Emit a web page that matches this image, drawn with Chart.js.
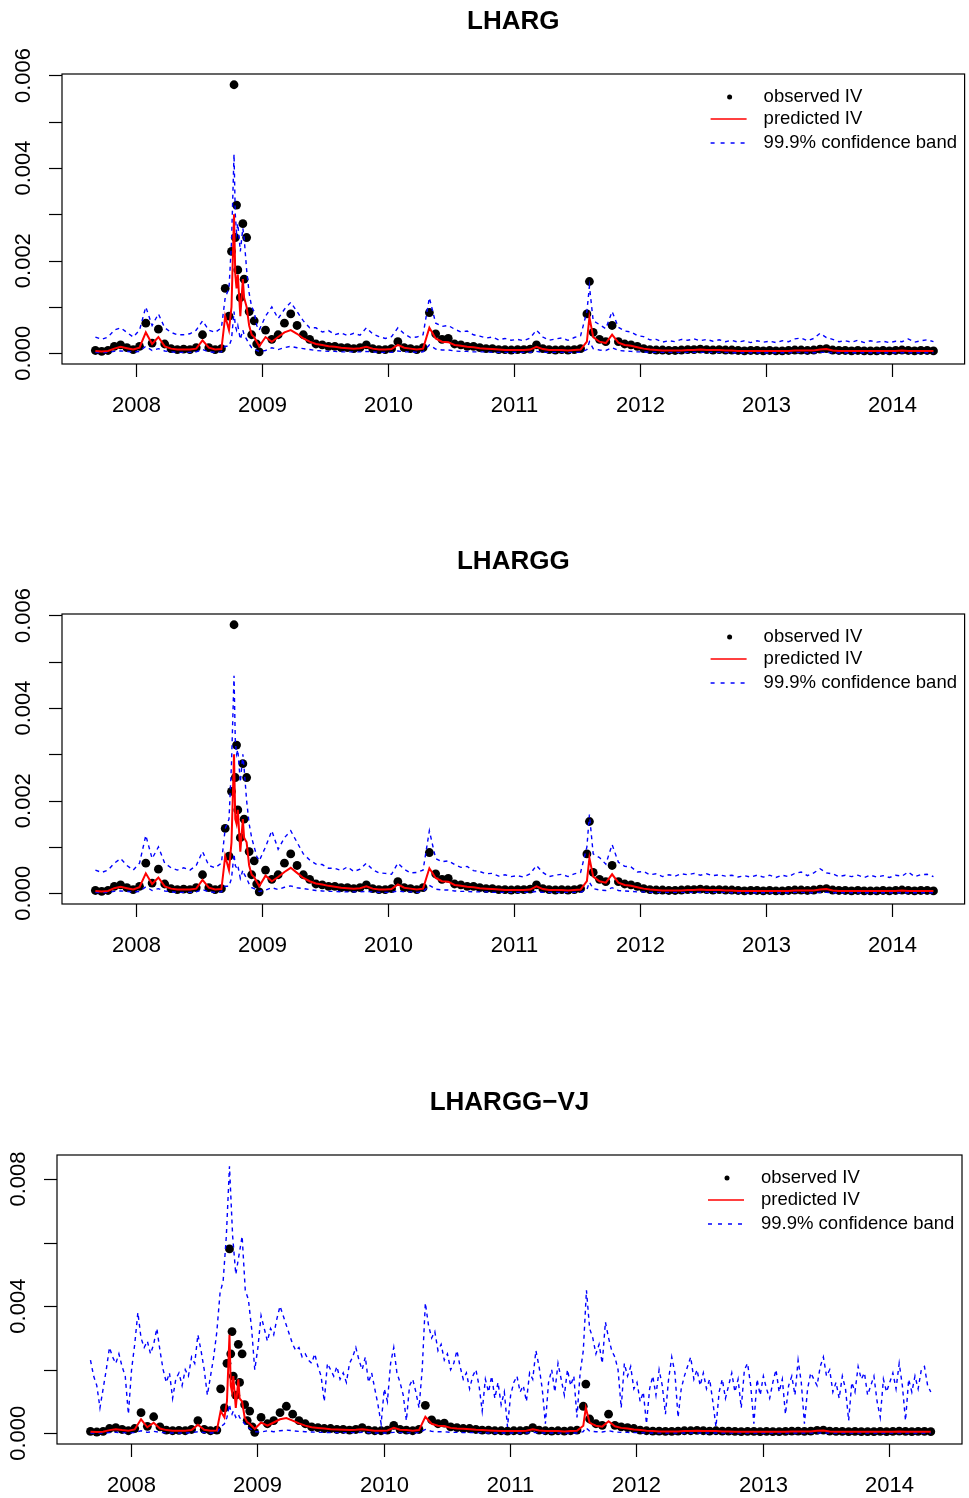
<!DOCTYPE html>
<html>
<head>
<meta charset="utf-8">
<script src="https://cdn.jsdelivr.net/npm/chart.js@4.4.1/dist/chart.umd.min.js"></script>
<style>
  body { margin: 0; background: #fff; }
  #wrap { position: relative; width: 969px; height: 1498px; }
  canvas { position: absolute; left: 0; }
</style>
</head>
<body>
<div id="wrap">
  <canvas id="lharg" width="969" height="540" style="top:0px"></canvas>
  <canvas id="lhargg" width="969" height="540" style="top:540px"></canvas>
  <canvas id="lharggvj" width="969" height="418" style="top:1080px"></canvas>
</div>
<script>
// decimal years of the sampled trading days
const dates = [
  2007.68, 2007.73, 2007.78, 2007.83, 2007.88, 2007.93, 2007.98, 2008.03, 2008.08, 2008.13, 2008.18, 2008.23, 2008.28, 2008.33, 2008.38, 2008.43, 2008.48, 2008.53, 2008.58, 2008.63, 2008.68,
  2008.71, 2008.74, 2008.76, 2008.78, 2008.79, 2008.80, 2008.81, 2008.83, 2008.85, 2008.86, 2008.88, 2008.90, 2008.92, 2008.94, 2008.96, 2008.98,
  2009.03, 2009.08, 2009.13, 2009.18, 2009.23, 2009.28, 2009.33, 2009.38, 2009.43, 2009.48, 2009.53, 2009.58, 2009.63, 2009.68, 2009.73, 2009.78, 2009.83, 2009.88, 2009.93, 2009.98,
  2010.03, 2010.08, 2010.13, 2010.18, 2010.23, 2010.28, 2010.33, 2010.38, 2010.43, 2010.48, 2010.53, 2010.58, 2010.63, 2010.68, 2010.73, 2010.78, 2010.83, 2010.88, 2010.93, 2010.98,
  2011.03, 2011.08, 2011.13, 2011.18, 2011.23, 2011.28, 2011.33, 2011.38, 2011.43, 2011.48, 2011.53, 2011.58, 2011.60, 2011.63, 2011.68, 2011.73, 2011.78, 2011.83, 2011.88, 2011.93, 2011.98,
  2012.03, 2012.08, 2012.13, 2012.18, 2012.23, 2012.28, 2012.33, 2012.38, 2012.43, 2012.48, 2012.53, 2012.58, 2012.63, 2012.68, 2012.73, 2012.78, 2012.83, 2012.88, 2012.93, 2012.98,
  2013.03, 2013.08, 2013.13, 2013.18, 2013.23, 2013.28, 2013.33, 2013.38, 2013.43, 2013.48, 2013.53, 2013.58, 2013.63, 2013.68, 2013.73, 2013.78, 2013.83, 2013.88, 2013.93, 2013.98,
  2014.03, 2014.08, 2014.13, 2014.18, 2014.23, 2014.28, 2014.33
];

// all series below are in units of 1e-4
const observed = [
  0.6, 0.4, 0.6, 1.5, 1.8, 1.2, 0.8, 1.5, 6.5, 2.2, 5.2, 2.0, 1.0, 0.8, 0.9, 0.8, 1.2, 4.0, 1.2, 0.8, 1.0,
  14, 8, 22, 58, 25, 32, 18, 12, 28, 16, 25, 9, 4, 7, 2, 0.3,
  5.0, 3.0, 4.0, 6.5, 8.5, 6.0, 4.0, 3.0, 2.0, 1.8, 1.5, 1.5, 1.2, 1.2, 1.0, 1.2, 1.8, 1.0, 0.8, 0.8,
  1.0, 2.5, 1.2, 1.0, 0.8, 1.2, 8.8, 4.2, 3.0, 3.2, 2.0, 1.8, 1.5, 1.5, 1.2, 1.0, 1.0, 0.8, 0.8, 0.7,
  0.8, 0.8, 0.9, 1.8, 1.0, 0.8, 0.7, 0.8, 0.7, 0.8, 1.0, 8.5, 15.5, 4.5, 3.0, 2.5, 6.0, 2.5, 2.0, 1.8, 1.5,
  1.0, 0.8, 0.7, 0.7, 0.6, 0.6, 0.7, 0.8, 0.8, 0.9, 0.8, 0.7, 0.8, 0.7, 0.7, 0.6, 0.5, 0.6, 0.6, 0.5,
  0.6, 0.5, 0.5, 0.6, 0.7, 0.7, 0.6, 0.7, 0.9, 1.0, 0.7, 0.6, 0.6, 0.5, 0.6, 0.5, 0.5, 0.5, 0.6, 0.5,
  0.6, 0.7, 0.6, 0.5, 0.6, 0.6, 0.5
];

const predLHARG = [
  0.5, 0.4, 0.5, 1.0, 1.4, 1.1, 0.8, 1.2, 4.5, 2.0, 3.5, 1.5, 1.0, 0.8, 0.8, 0.8, 1.0, 2.8, 1.2, 0.8, 0.9,
  8, 5, 10, 30, 17, 14, 17, 8, 16, 12, 10, 6, 4, 3.5, 2.5, 1.5,
  3.5, 2.5, 3.5, 4.5, 5.0, 4.2, 3.2, 2.5, 2.0, 1.8, 1.5, 1.4, 1.2, 1.1, 1.0, 1.1, 1.4, 1.0, 0.8, 0.8,
  0.9, 1.8, 1.2, 1.0, 0.8, 1.0, 5.5, 3.2, 2.5, 2.4, 1.8, 1.6, 1.4, 1.3, 1.1, 1.0, 0.9, 0.8, 0.7, 0.7,
  0.7, 0.7, 0.8, 1.4, 0.9, 0.7, 0.7, 0.7, 0.6, 0.7, 0.8, 2.5, 7.8, 3.5, 2.5, 2.2, 4.0, 2.3, 1.8, 1.6, 1.3,
  1.0, 0.8, 0.7, 0.6, 0.6, 0.6, 0.6, 0.7, 0.7, 0.8, 0.7, 0.7, 0.7, 0.6, 0.6, 0.5, 0.5, 0.5, 0.5, 0.5,
  0.5, 0.5, 0.5, 0.5, 0.6, 0.6, 0.6, 0.6, 0.8, 0.9, 0.6, 0.5, 0.5, 0.5, 0.5, 0.5, 0.5, 0.5, 0.5, 0.5,
  0.5, 0.6, 0.5, 0.5, 0.5, 0.5, 0.5
];
const upperLHARG = [
  3.5, 3.0, 3.5, 5.0, 5.5, 4.5, 3.5, 5.0, 10.0, 6.0, 8.5, 5.5, 4.5, 4.0, 4.0, 4.2, 5.0, 7.0, 5.0, 4.5, 5.5,
  12, 14, 24, 43, 30, 26, 28, 22, 27, 25, 18, 13, 10, 9, 6, 5,
  8.0, 10.0, 7.5, 9.5, 11.0, 9.0, 7.0, 5.5, 5.5, 4.6, 4.9, 4.0, 4.4, 3.8, 4.3, 3.9, 5.5, 4.2, 3.6, 3.2,
  3.6, 5.5, 4.2, 3.4, 3.5, 4.0, 12.0, 6.5, 5.8, 6.0, 5.2, 4.6, 4.8, 4.0, 3.7, 3.3, 3.5, 2.9, 3.2, 2.8,
  3.0, 2.7, 3.3, 5.0, 3.5, 2.8, 3.1, 3.3, 2.8, 3.4, 3.8, 9.0, 14.5, 7.0, 6.2, 5.3, 9.0, 5.6, 4.8, 4.6, 3.8,
  3.6, 2.9, 3.0, 2.4, 2.7, 2.5, 3.0, 2.8, 3.1, 2.7, 3.0, 2.6, 2.9, 2.5, 2.8, 2.4, 2.7, 2.3, 2.7, 2.4,
  2.6, 2.3, 2.7, 2.5, 3.1, 3.3, 2.7, 3.2, 4.3, 3.4, 3.0, 2.5, 2.7, 2.4, 2.8, 2.3, 2.7, 2.4, 2.6, 2.3,
  2.6, 2.5, 3.1, 2.4, 2.7, 2.9, 2.5
];
const lowerLHARG = [
  0.2, 0.1, 0.2, 0.4, 0.5, 0.4, 0.3, 0.4, 1.5, 0.6, 1.0, 0.5, 0.3, 0.2, 0.2, 0.2, 0.3, 0.8, 0.3, 0.2, 0.3,
  1.5, 1.5, 3.0, 9.0, 6.0, 5.0, 6.0, 3.0, 5.0, 4.0, 3.0, 2.0, 1.2, 1.0, 0.6, 0.4,
  0.6, 1.2, 0.8, 1.2, 1.5, 1.2, 1.0, 0.8, 0.6, 0.5, 0.4, 0.4, 0.3, 0.3, 0.3, 0.3, 0.4, 0.3, 0.2, 0.2,
  0.2, 0.5, 0.3, 0.3, 0.2, 0.3, 1.8, 0.9, 0.7, 0.7, 0.5, 0.4, 0.4, 0.3, 0.3, 0.3, 0.2, 0.2, 0.2, 0.2,
  0.2, 0.2, 0.2, 0.4, 0.2, 0.2, 0.2, 0.2, 0.2, 0.2, 0.2, 0.8, 2.5, 1.0, 0.7, 0.6, 1.2, 0.6, 0.5, 0.4, 0.3,
  0.3, 0.2, 0.2, 0.2, 0.2, 0.2, 0.2, 0.2, 0.2, 0.2, 0.2, 0.2, 0.2, 0.2, 0.1, 0.1, 0.1, 0.1, 0.1, 0.1,
  0.1, 0.1, 0.1, 0.1, 0.2, 0.2, 0.1, 0.1, 0.2, 0.2, 0.1, 0.1, 0.1, 0.1, 0.1, 0.1, 0.1, 0.1, 0.1, 0.1,
  0.1, 0.1, 0.1, 0.1, 0.1, 0.1, 0.1
];

const predLHARGG = [
  0.5, 0.4, 0.5, 1.1, 1.4, 1.1, 0.8, 1.3, 4.3, 2.0, 3.4, 1.5, 1.0, 0.8, 0.8, 0.8, 1.0, 2.9, 1.2, 0.8, 0.9,
  8, 5, 11, 30, 16, 15, 18, 9, 16, 12, 11, 6, 4, 3.5, 2.5, 1.5,
  3.8, 2.6, 3.5, 4.6, 5.5, 4.4, 3.3, 2.6, 2.1, 1.9, 1.6, 1.4, 1.2, 1.1, 1.0, 1.1, 1.5, 1.0, 0.8, 0.8,
  0.9, 1.9, 1.2, 1.0, 0.8, 1.0, 5.4, 3.3, 2.6, 2.5, 1.8, 1.6, 1.4, 1.3, 1.1, 1.0, 0.9, 0.8, 0.7, 0.7,
  0.7, 0.7, 0.8, 1.5, 0.9, 0.7, 0.7, 0.7, 0.6, 0.7, 0.8, 2.6, 7.6, 3.6, 2.6, 2.3, 4.1, 2.3, 1.8, 1.6, 1.3,
  1.0, 0.8, 0.7, 0.6, 0.6, 0.6, 0.6, 0.7, 0.7, 0.8, 0.7, 0.7, 0.7, 0.6, 0.6, 0.5, 0.5, 0.5, 0.5, 0.5,
  0.5, 0.5, 0.5, 0.5, 0.6, 0.6, 0.6, 0.6, 0.8, 0.9, 0.6, 0.5, 0.5, 0.5, 0.5, 0.5, 0.5, 0.5, 0.5, 0.5,
  0.5, 0.6, 0.5, 0.5, 0.5, 0.5, 0.5
];
const upperLHARGG = [
  5.0, 4.5, 5.0, 6.5, 7.5, 6.0, 5.0, 6.5, 12.5, 7.5, 10.0, 6.5, 5.5, 5.0, 5.5, 5.0, 6.0, 9.0, 6.0, 5.5, 6.5,
  14, 16, 28, 47, 33, 30, 31, 24, 30, 27, 20, 15, 12, 10, 8, 7,
  10, 13.5, 9.5, 12, 13.5, 11, 8.5, 7.2, 6.3, 6.2, 5.4, 5.4, 4.9, 5.7, 4.7, 5.2, 6.5, 5.1, 4.4, 4.3,
  4.1, 6.5, 5.2, 4.4, 4.5, 5.0, 13.5, 7.5, 6.8, 7.0, 6.2, 5.6, 5.8, 4.9, 4.7, 4.2, 4.3, 3.7, 4.0, 3.6,
  3.8, 3.5, 4.2, 6.0, 4.5, 3.6, 3.9, 4.1, 3.6, 4.2, 4.5, 10, 17, 8.5, 7.7, 6.3, 10.5, 6.7, 5.8, 5.7, 4.6,
  4.7, 4.0, 4.2, 3.6, 4.0, 3.7, 4.2, 4.0, 4.3, 3.9, 4.2, 3.8, 4.0, 3.7, 3.9, 3.5, 3.8, 3.5, 3.9, 3.5,
  3.9, 3.4, 3.9, 3.6, 4.3, 4.6, 3.8, 4.4, 5.3, 4.4, 4.2, 3.6, 3.9, 3.6, 3.9, 3.4, 3.9, 3.5, 3.8, 3.4,
  3.9, 3.7, 4.6, 3.6, 4.0, 4.1, 3.6
];
const lowerLHARGG = [
  0.2, 0.1, 0.2, 0.4, 0.5, 0.4, 0.3, 0.4, 1.4, 0.6, 1.0, 0.5, 0.3, 0.2, 0.2, 0.2, 0.3, 0.8, 0.3, 0.2, 0.3,
  1.5, 1.5, 3.2, 8.5, 6.0, 5.5, 6.0, 3.2, 5.0, 4.2, 3.2, 2.0, 1.2, 1.0, 0.6, 0.4,
  0.7, 1.2, 0.8, 1.3, 1.6, 1.2, 1.0, 0.8, 0.6, 0.5, 0.4, 0.4, 0.3, 0.3, 0.3, 0.3, 0.4, 0.3, 0.2, 0.2,
  0.2, 0.5, 0.3, 0.3, 0.2, 0.3, 1.7, 0.9, 0.7, 0.7, 0.5, 0.4, 0.4, 0.3, 0.3, 0.3, 0.2, 0.2, 0.2, 0.2,
  0.2, 0.2, 0.2, 0.4, 0.2, 0.2, 0.2, 0.2, 0.2, 0.2, 0.2, 0.8, 2.4, 1.0, 0.7, 0.6, 1.2, 0.6, 0.5, 0.4, 0.3,
  0.3, 0.2, 0.2, 0.2, 0.2, 0.2, 0.2, 0.2, 0.2, 0.2, 0.2, 0.2, 0.2, 0.2, 0.1, 0.1, 0.1, 0.1, 0.1, 0.1,
  0.1, 0.1, 0.1, 0.1, 0.2, 0.2, 0.1, 0.1, 0.2, 0.2, 0.1, 0.1, 0.1, 0.1, 0.1, 0.1, 0.1, 0.1, 0.1, 0.1,
  0.1, 0.1, 0.1, 0.1, 0.1, 0.1, 0.1
];

const predVJ = [
  0.5, 0.4, 0.5, 1.0, 1.3, 1.0, 0.8, 1.2, 4.4, 1.9, 3.3, 1.5, 1.0, 0.8, 0.8, 0.8, 1.0, 2.7, 1.1, 0.8, 0.9,
  7, 5, 10, 31, 15, 13, 18, 8, 17, 11, 10, 5, 3.5, 3, 2.2, 1.4,
  3.4, 2.4, 3.4, 4.4, 4.8, 4.0, 3.1, 2.4, 1.9, 1.7, 1.5, 1.3, 1.2, 1.1, 1.0, 1.1, 1.3, 1.0, 0.8, 0.8,
  0.9, 1.7, 1.1, 1.0, 0.8, 1.0, 5.2, 3.0, 2.4, 2.3, 1.7, 1.5, 1.4, 1.3, 1.1, 1.0, 0.9, 0.8, 0.7, 0.7,
  0.7, 0.7, 0.8, 1.3, 0.9, 0.7, 0.7, 0.7, 0.6, 0.7, 0.8, 2.4, 8.0, 3.3, 2.4, 2.1, 3.8, 2.2, 1.7, 1.5, 1.2,
  1.0, 0.8, 0.7, 0.6, 0.6, 0.6, 0.6, 0.7, 0.7, 0.8, 0.7, 0.7, 0.7, 0.6, 0.6, 0.5, 0.5, 0.5, 0.5, 0.5,
  0.5, 0.5, 0.5, 0.5, 0.6, 0.6, 0.6, 0.6, 0.8, 0.9, 0.6, 0.5, 0.5, 0.5, 0.5, 0.5, 0.5, 0.5, 0.5, 0.5,
  0.5, 0.6, 0.5, 0.5, 0.5, 0.5, 0.5
];
const lowerVJ = [
  0.1, 0.1, 0.1, 0.2, 0.3, 0.2, 0.1, 0.2, 0.8, 0.3, 0.6, 0.3, 0.1, 0.1, 0.1, 0.1, 0.2, 0.5, 0.2, 0.1, 0.2,
  2, 3, 5, 9, 7, 6, 7, 5, 6, 5, 4, 3, 2, 1.5, 1, 0.5,
  0.4, 0.8, 0.5, 0.8, 1.0, 0.8, 0.6, 0.5, 0.4, 0.3, 0.3, 0.2, 0.2, 0.2, 0.2, 0.2, 0.3, 0.2, 0.1, 0.1,
  0.1, 0.3, 0.2, 0.2, 0.1, 0.2, 1.2, 0.6, 0.5, 0.5, 0.3, 0.3, 0.2, 0.2, 0.2, 0.2, 0.1, 0.1, 0.1, 0.1,
  0.1, 0.1, 0.1, 0.3, 0.1, 0.1, 0.1, 0.1, 0.1, 0.1, 0.1, 0.5, 1.8, 0.7, 0.5, 0.4, 0.8, 0.4, 0.3, 0.3, 0.2,
  0.2, 0.1, 0.1, 0.1, 0.1, 0.1, 0.1, 0.1, 0.1, 0.1, 0.1, 0.1, 0.1, 0.1, 0.1, 0.1, 0.1, 0.1, 0.1, 0.1,
  0.1, 0.1, 0.1, 0.1, 0.1, 0.1, 0.1, 0.1, 0.1, 0.1, 0.1, 0.1, 0.1, 0.1, 0.1, 0.1, 0.1, 0.1, 0.1, 0.1,
  0.1, 0.1, 0.1, 0.1, 0.1, 0.1, 0.1
];

// upper VJ band is read on a finer calendar grid (every 0.025 year)
const vjBandDates = [];
for (let k = 0; k <= 266; k++) vjBandDates.push(+(2007.68 + k * 0.025).toFixed(3));
const upperVJ = [
  23, 18, 15, 8, 14, 20, 27, 24, 22, 25, 21, 18, 6,
  20, 28, 38, 30, 27, 29, 25, 28, 33, 26, 20, 16, 19, 11, 17, 19, 15, 20, 18, 24,
  22, 31, 26, 20, 12, 18, 24, 32, 44, 48, 62, 84, 62, 50, 56, 62, 45, 42, 33, 20,
  27, 37, 33, 29, 33, 31, 36, 40, 37, 34, 31, 28, 26, 27, 24, 25, 23, 22, 25, 21,
  18, 10, 22, 20, 18, 21, 17, 19, 16, 22, 24, 27, 23, 20, 24, 16, 19, 14, 9, 3,
  14, 10, 22, 27, 19, 16, 12, 4, 15, 17, 13, 8, 20, 41, 34, 30, 32, 26, 28, 23,
  25, 20, 22, 26, 21, 17, 19, 14, 18, 20, 15, 7, 17, 13, 18, 11, 16, 9, 13, 2,
  12, 16, 18, 13, 15, 10, 19, 17, 26, 21, 14, 3, 16, 20, 13, 22, 17, 12, 20, 15,
  18, 5, 19, 26, 45, 33, 30, 25, 28, 22, 35, 30, 26, 24, 20, 8, 22, 18, 21, 14,
  16, 10, 13, 3, 14, 18, 12, 20, 15, 6, 17, 24, 19, 5, 14, 18, 21, 24, 17, 20,
  15, 19, 14, 17, 10, 2, 13, 17, 11, 15, 19, 13, 17, 8, 20, 22, 15, 3, 17, 12,
  18, 14, 11, 16, 20, 13, 17, 6, 15, 18, 12, 23, 16, 3, 14, 19, 17, 15, 21, 24,
  18, 20, 13, 16, 11, 18, 14, 4, 16, 13, 21, 17, 19, 12, 15, 18, 10, 5, 17, 13,
  16, 19, 14, 22, 15, 4, 17, 13, 18, 14, 20, 21, 15, 13
];

const UNIT = 1e-4;
const yearTicks = [2008, 2009, 2010, 2011, 2012, 2013, 2014];
const yTicksSmall = [0, 0.001, 0.002, 0.003, 0.004, 0.005, 0.006];
const yLabelsSmall = [0, 0.002, 0.004, 0.006];
const yTicksVJ = [0, 0.002, 0.004, 0.006, 0.008];
const yLabelsVJ = [0, 0.004, 0.008];
const legendLabels = ['observed IV', 'predicted IV', '99.9% confidence band'];

const FONT = '"Liberation Sans", Arial, Helvetica, sans-serif';

function toPoints(vals, ds) {
  ds = ds || dates;
  return ds.map((d, i) => ({ x: d, y: vals[i] * UNIT }));
}

// R-style frame: box, outward ticks, rotated y labels, title and legend
function rFrame(title, yTicks, yLabels) {
  return {
    id: 'rFrame',
    afterDatasetsDraw(chart) {
      const ctx = chart.ctx, a = chart.chartArea;
      const xs = chart.scales.x, ys = chart.scales.y;
      ctx.save();
      ctx.strokeStyle = '#000';
      ctx.fillStyle = '#000';
      ctx.lineWidth = 1.2;
      ctx.setLineDash([]);
      ctx.strokeRect(a.left, a.top, a.right - a.left, a.bottom - a.top);

      ctx.font = '22px ' + FONT;
      ctx.textAlign = 'center';
      ctx.textBaseline = 'alphabetic';
      yearTicks.forEach(yr => {
        const px = Math.round(xs.getPixelForValue(yr)) + 0.5;
        ctx.beginPath();
        ctx.moveTo(px, a.bottom);
        ctx.lineTo(px, a.bottom + 13);
        ctx.stroke();
        ctx.fillText(String(yr), px, a.bottom + 48);
      });
      yTicks.forEach(v => {
        const py = Math.round(ys.getPixelForValue(v)) + 0.5;
        ctx.beginPath();
        ctx.moveTo(a.left, py);
        ctx.lineTo(a.left - 13, py);
        ctx.stroke();
      });
      yLabels.forEach(v => {
        ctx.save();
        ctx.translate(a.left - 32, ys.getPixelForValue(v));
        ctx.rotate(-Math.PI / 2);
        ctx.fillText(v.toFixed(3), 0, 0);
        ctx.restore();
      });

      ctx.font = 'bold 26px ' + FONT;
      ctx.fillText(title, (a.left + a.right) / 2, a.top - 45);

      // legend, no box
      const rows = [23, 45, 69];
      const x0 = a.right - 254, x1 = a.right - 218;
      ctx.beginPath();
      ctx.arc(a.right - 235, a.top + rows[0], 2.5, 0, Math.PI * 2);
      ctx.fill();
      ctx.lineWidth = 1.4;
      ctx.strokeStyle = '#ff0000';
      ctx.beginPath();
      ctx.moveTo(x0, a.top + rows[1]);
      ctx.lineTo(x1, a.top + rows[1]);
      ctx.stroke();
      ctx.strokeStyle = '#0000ff';
      ctx.setLineDash([4, 6]);
      ctx.beginPath();
      ctx.moveTo(x0, a.top + rows[2]);
      ctx.lineTo(x1 + 2, a.top + rows[2]);
      ctx.stroke();
      ctx.setLineDash([]);
      ctx.font = '18.5px ' + FONT;
      ctx.textAlign = 'left';
      ctx.textBaseline = 'middle';
      legendLabels.forEach((t, i) => ctx.fillText(t, a.right - 201, a.top + rows[i]));
      ctx.restore();
    }
  };
}

function drawPanel(id, title, pred, upperPts, lower, yMin, yMax, yTicks, yLabels, pad) {
  const band = {
    showLine: true, borderColor: '#0000ff', borderWidth: 1.4, borderDash: [4, 4],
    pointRadius: 0, fill: false, order: 2
  };
  new Chart(document.getElementById(id).getContext('2d'), {
    type: 'scatter',
    data: {
      datasets: [
        { label: legendLabels[0], data: toPoints(observed), showLine: false,
          pointRadius: 4.4, pointBorderWidth: 0, pointBackgroundColor: '#000', order: 3 },
        Object.assign({ label: legendLabels[2], data: upperPts }, band),
        Object.assign({ label: 'lower band', data: toPoints(lower) }, band),
        { label: legendLabels[1], data: toPoints(pred), showLine: true, borderColor: '#ff0000',
          borderWidth: 2, pointRadius: 0, order: 1 }
      ]
    },
    options: {
      responsive: false,
      animation: false,
      devicePixelRatio: 1,
      events: [],
      layout: { padding: pad },
      scales: {
        x: { type: 'linear', display: false, min: 2007.415, max: 2014.577 },
        y: { type: 'linear', display: false, min: yMin, max: yMax }
      },
      plugins: { legend: { display: false }, tooltip: { enabled: false } }
    },
    plugins: [rFrame(title, yTicks, yLabels)]
  });
}

drawPanel('lharg', 'LHARG', predLHARG, toPoints(upperLHARG), lowerLHARG, -0.000232, 0.006032,
  yTicksSmall, yLabelsSmall, { left: 62, top: 74, right: 1, bottom: 176 });
drawPanel('lhargg', 'LHARGG', predLHARGG, toPoints(upperLHARGG), lowerLHARGG, -0.000232, 0.006032,
  yTicksSmall, yLabelsSmall, { left: 62, top: 74, right: 1, bottom: 176 });
drawPanel('lharggvj', 'LHARGG\u2212VJ', predVJ, toPoints(upperVJ, vjBandDates), lowerVJ, -0.000337, 0.008756,
  yTicksVJ, yLabelsVJ, { left: 57, top: 75, right: 7, bottom: 54 });
</script>
</body>
</html>
